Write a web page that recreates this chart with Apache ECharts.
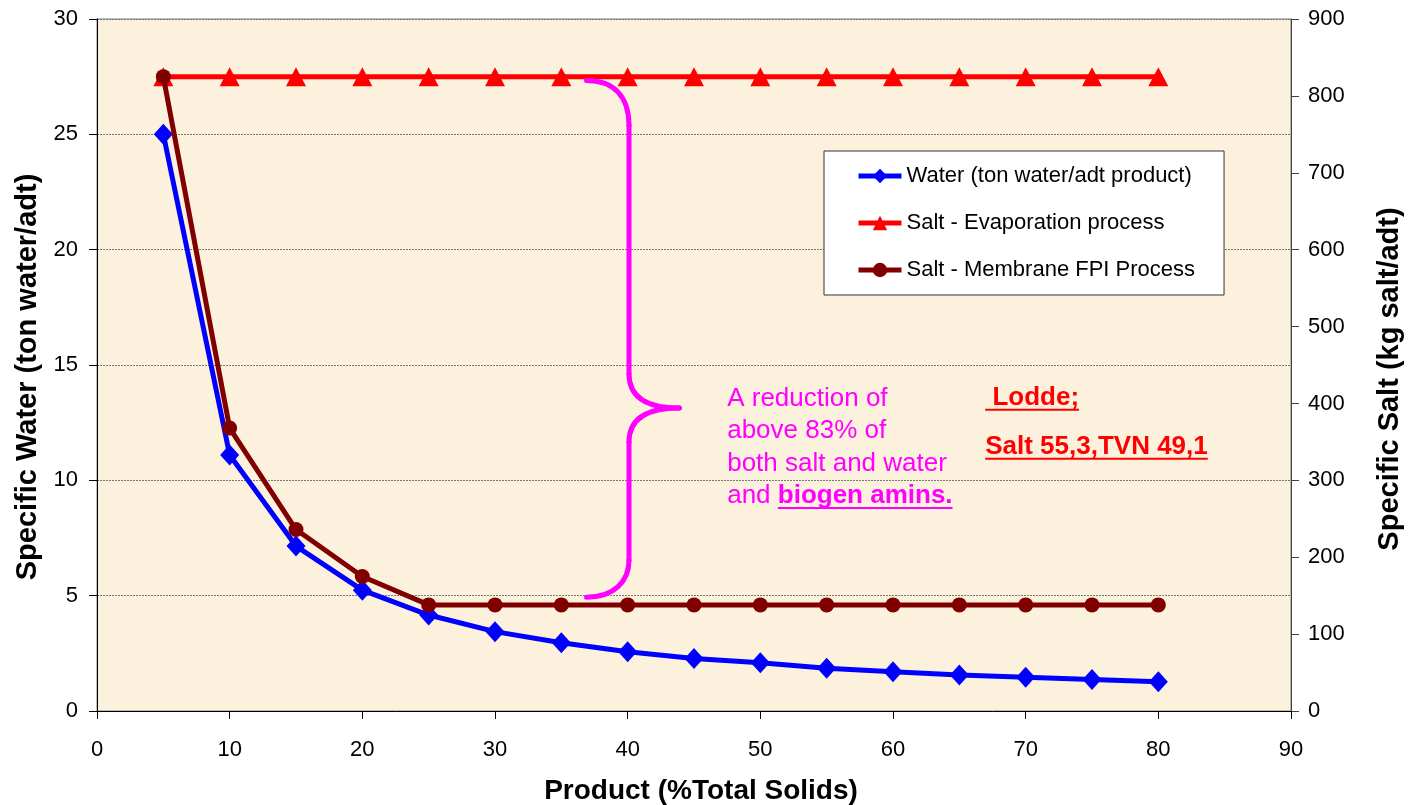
<!DOCTYPE html>
<html>
<head>
<meta charset="utf-8">
<script src="https://cdn.jsdelivr.net/npm/echarts@6/dist/echarts.min.js"></script>
<style>
html,body{margin:0;padding:0;background:#fff;}
#c{width:1408px;height:805px;}
</style>
</head>
<body>
<div id="c"></div>
<script>
// ---- data ----
var solids = [5, 10, 15, 20, 25, 30, 35, 40, 45, 50, 55, 60, 65, 70, 75, 80];
var waterValues = [25.0, 11.1, 7.15, 5.24, 4.16, 3.44, 2.96, 2.57, 2.28, 2.09, 1.85, 1.70, 1.56, 1.46, 1.37, 1.27];
var saltEvaporation = [825, 825, 825, 825, 825, 825, 825, 825, 825, 825, 825, 825, 825, 825, 825, 825];
var saltMembrane = [825, 368, 236, 175, 138, 138, 138, 138, 138, 138, 138, 138, 138, 138, 138, 138];
var seriesNames = ['Water (ton water/adt product)', 'Salt - Evaporation process', 'Salt - Membrane FPI Process'];
var xTitle = 'Product (%Total Solids)';
var yLeftTitle = 'Specific Water (ton water/adt)';
var yRightTitle = 'Specific Salt (kg salt/adt)';
var noteLines = ['A reduction of', 'above 83% of', 'both salt and water', 'and '];
var noteBold = 'biogen amins.';
var loddeLines = [' Lodde;', 'Salt 55,3,TVN 49,1'];

function pairs(xs, ys) { return xs.map(function (x, i) { return [x, ys[i]]; }); }

var FONT = 'Liberation Sans, Arial, sans-serif';
var chart = echarts.init(document.getElementById('c'), null, { renderer: 'canvas' });

var option = {
  backgroundColor: '#ffffff',
  animation: false,
  textStyle: { fontFamily: FONT },
  grid: {
    left: 97, right: 117, top: 19, bottom: 94,
    outerBoundsMode: 'none', containLabel: false,
    show: true, backgroundColor: '#FCF1DC', borderColor: '#808080', borderWidth: 1
  },
  legend: {
    orient: 'vertical',
    left: 824, top: 151,
    padding: [12, 29, 12, 32],
    itemGap: 21,
    itemWidth: 43, itemHeight: 18,
    backgroundColor: '#ffffff',
    borderColor: '#333333', borderWidth: 1,
    lineStyle: { width: 5 },
    textStyle: { fontSize: 22, color: '#000', fontFamily: FONT, lineHeight: 26 },
    data: seriesNames
  },
  xAxis: {
    type: 'value', min: 0, max: 90, interval: 10,
    name: xTitle, nameLocation: 'middle', nameGap: 66,
    nameTextStyle: { fontSize: 28, fontWeight: 'bold', color: '#000', fontFamily: FONT, padding: [0, 0, 0, 14] },
    axisLine: { show: true, lineStyle: { color: '#000', width: 1 } },
    axisTick: { show: true, length: 8, lineStyle: { color: '#000' } },
    axisLabel: { fontSize: 22, color: '#000', margin: 28, fontFamily: FONT },
    splitLine: { show: false }
  },
  yAxis: [
    {
      type: 'value', min: 0, max: 30, interval: 5, position: 'left',
      name: yLeftTitle, nameLocation: 'middle', nameGap: 54,
      nameTextStyle: { fontSize: 29, fontWeight: 'bold', color: '#000', fontFamily: FONT, padding: [0, 24, 0, 0] },
      axisLine: { show: true, lineStyle: { color: '#000', width: 1 } },
      axisTick: { show: true, length: 8, lineStyle: { color: '#000' } },
      axisLabel: { fontSize: 22, color: '#000', margin: 19, fontFamily: FONT },
      splitLine: { show: true, lineStyle: { color: '#777', width: 1, type: [2, 1] } }
    },
    {
      type: 'value', min: 0, max: 900, interval: 100, position: 'right',
      name: yRightTitle, nameLocation: 'middle', nameGap: 84, nameRotate: 90,
      nameTextStyle: { fontSize: 29, fontWeight: 'bold', color: '#000', fontFamily: FONT, padding: [0, 28, 0, 0] },
      axisLine: { show: true, lineStyle: { color: '#404040', width: 1 } },
      axisTick: { show: true, length: 8, lineStyle: { color: '#404040' } },
      axisLabel: { fontSize: 22, color: '#000', margin: 17, fontFamily: FONT },
      splitLine: { show: false }
    }
  ],
  series: [
    {
      name: seriesNames[0], type: 'line', yAxisIndex: 0,
      data: pairs(solids, waterValues),
      symbol: 'diamond', symbolSize: [19, 21],
      lineStyle: { color: '#0000FF', width: 5 },
      itemStyle: { color: '#0000FF' }, z: 2
    },
    {
      name: seriesNames[1], type: 'line', yAxisIndex: 1,
      data: pairs(solids, saltEvaporation),
      symbol: 'triangle', symbolSize: [20, 19],
      lineStyle: { color: '#FF0000', width: 5 },
      itemStyle: { color: '#FF0000' }, z: 3
    },
    {
      name: seriesNames[2], type: 'line', yAxisIndex: 1,
      data: pairs(solids, saltMembrane),
      symbol: 'circle', symbolSize: 15,
      lineStyle: { color: '#800000', width: 5 },
      itemStyle: { color: '#800000' }, z: 4
    }
  ]
};
chart.setOption(option);

// ---- annotations (positioned through the chart's own scales) ----
var mctx = document.createElement('canvas').getContext('2d');
function textW(t, font) { mctx.font = font; return mctx.measureText(t).width; }
function px(x, yRight) { return chart.convertToPixel({ xAxisIndex: 0, yAxisIndex: 1 }, [x, yRight]); }

var pTop = px(36.9, 820), pMid = px(43.9, 394), pBot = px(36.9, 148), vx = px(40.1, 0)[0];
var x0 = pTop[0], xt = pMid[0], yt = pTop[1], ym = pMid[1], yb = pBot[1];
var braceStyle = { stroke: '#FF00FF', lineWidth: 5, fill: null, lineCap: 'round' };
function bez(a, b, c1, c2) {
  return { type: 'bezierCurve', z: 10, silent: true,
    shape: { x1: a[0], y1: a[1], x2: b[0], y2: b[1], cpx1: c1[0], cpy1: c1[1], cpx2: c2[0], cpy2: c2[1] },
    style: braceStyle };
}
function seg(a, b) {
  return { type: 'line', z: 10, silent: true,
    shape: { x1: a[0], y1: a[1], x2: b[0], y2: b[1] }, style: braceStyle };
}
var graphics = [
  bez([x0, yt], [vx, yt + 45], [vx - 15, yt], [vx, yt + 16]),
  seg([vx, yt + 45], [vx, ym - 34]),
  bez([vx, ym - 34], [xt, ym], [vx, ym - 13], [vx + 15, ym]),
  bez([xt, ym], [vx, ym + 34], [vx + 15, ym], [vx, ym + 13]),
  seg([vx, ym + 34], [vx, yb - 37]),
  bez([vx, yb - 37], [x0, yb], [vx, yb - 16], [vx - 15, yb])
];

var noteAnchor = px(47.5, 400);
var nx = noteAnchor[0], ny0 = noteAnchor[1] - 5;
var lineH = 32.5;
var fReg = '26px ' + FONT, fBold = 'bold 26px ' + FONT;
noteLines.forEach(function (t, i) {
  graphics.push({
    type: 'text', z: 10, x: nx, y: ny0 + i * lineH,
    style: { text: t, fill: '#FF00FF', font: fReg, textAlign: 'left', textVerticalAlign: 'middle' }
  });
});
var andW = textW(noteLines[3], fReg);
var boldW = textW(noteBold, fBold);
var by = ny0 + 3 * lineH;
graphics.push({
  type: 'text', z: 10, x: nx + andW, y: by,
  style: { text: noteBold, fill: '#FF00FF', font: fBold, textAlign: 'left', textVerticalAlign: 'middle' }
});
graphics.push({
  type: 'rect', z: 10, shape: { x: nx + andW, y: by + 11, width: boldW, height: 2 },
  style: { fill: '#FF00FF' }
});

var lAnchor = px(66.95, 410);
var lx = lAnchor[0];
[lAnchor[1] + 2, lAnchor[1] + 51].forEach(function (yy, i) {
  var t = loddeLines[i];
  graphics.push({
    type: 'text', z: 10, x: lx, y: yy,
    style: { text: t, fill: '#FF0000', font: fBold, textAlign: 'left', textVerticalAlign: 'middle' }
  });
  graphics.push({
    type: 'rect', z: 10, shape: { x: lx, y: yy + 11, width: textW(t, fBold), height: 2 },
    style: { fill: '#FF0000' }
  });
});
chart.setOption({ graphic: graphics });
</script>
</body>
</html>
